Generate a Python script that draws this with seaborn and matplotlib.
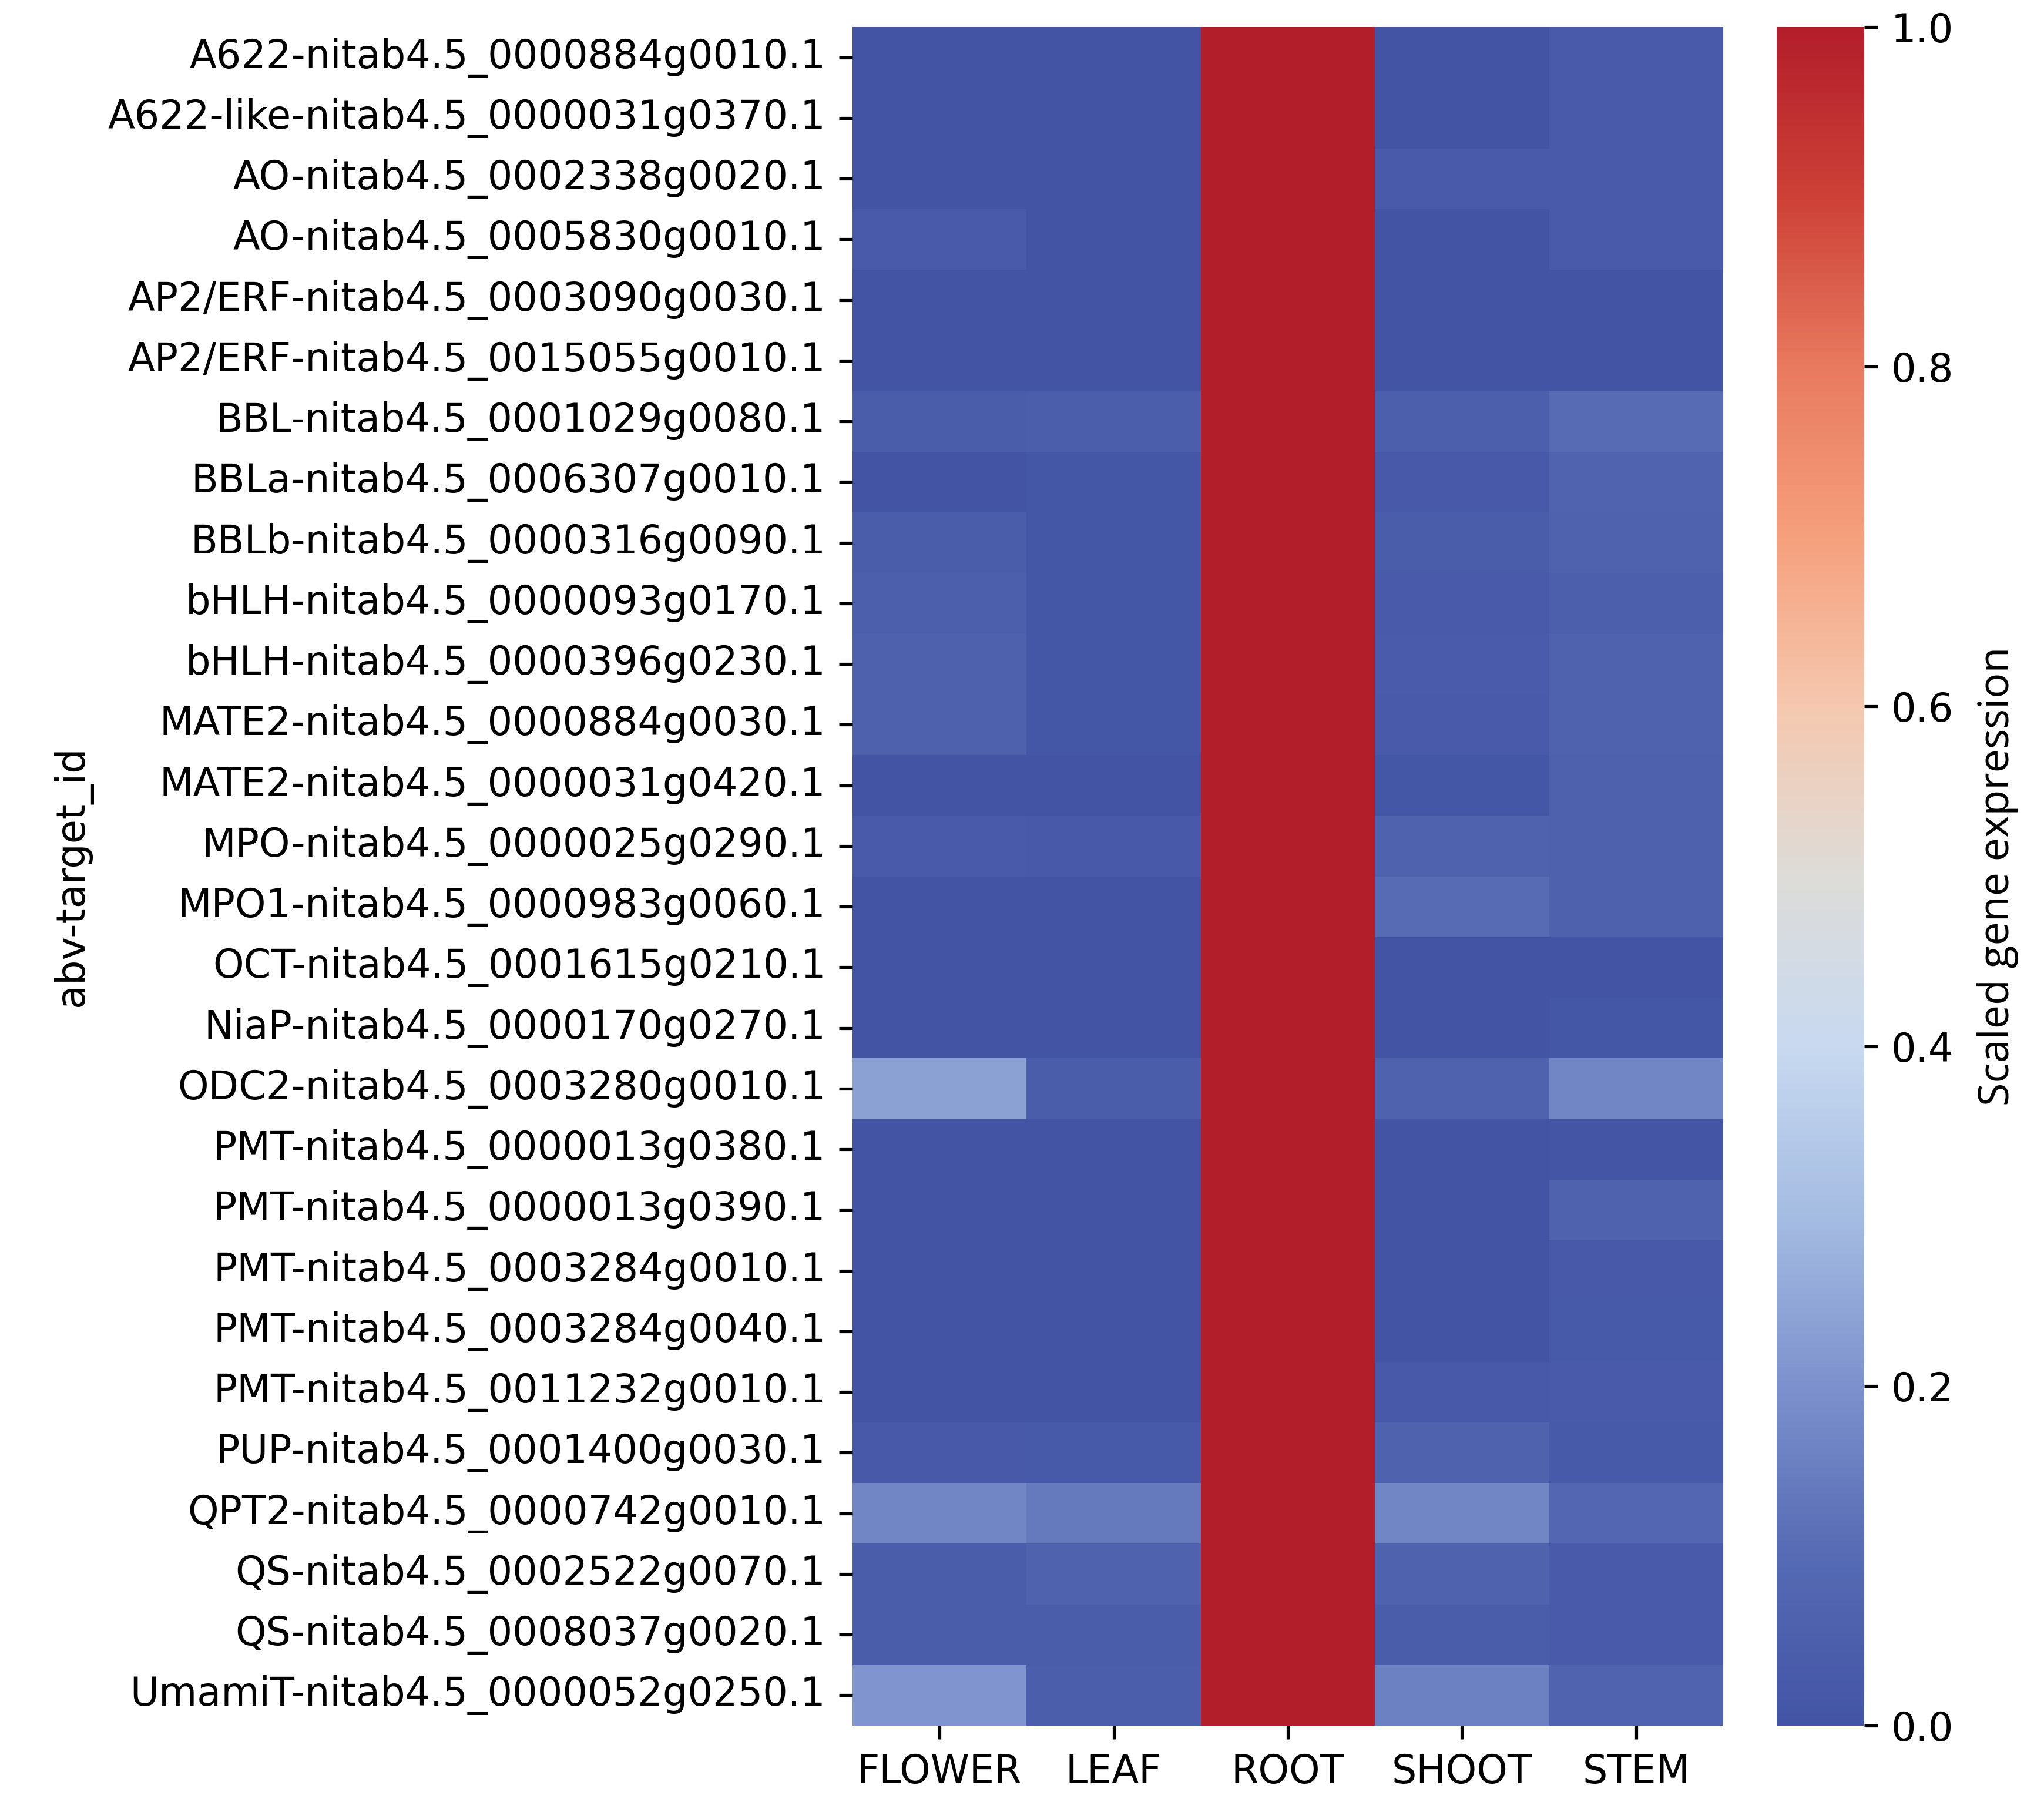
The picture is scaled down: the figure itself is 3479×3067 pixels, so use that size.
import numpy as np
import pandas as pd
import matplotlib
matplotlib.use("Agg")
import matplotlib.pyplot as plt
from matplotlib.colors import LinearSegmentedColormap
import seaborn as sns

genes = [
    "A622-nitab4.5_0000884g0010.1",
    "A622-like-nitab4.5_0000031g0370.1",
    "AO-nitab4.5_0002338g0020.1",
    "AO-nitab4.5_0005830g0010.1",
    "AP2/ERF-nitab4.5_0003090g0030.1",
    "AP2/ERF-nitab4.5_0015055g0010.1",
    "BBL-nitab4.5_0001029g0080.1",
    "BBLa-nitab4.5_0006307g0010.1",
    "BBLb-nitab4.5_0000316g0090.1",
    "bHLH-nitab4.5_0000093g0170.1",
    "bHLH-nitab4.5_0000396g0230.1",
    "MATE2-nitab4.5_0000884g0030.1",
    "MATE2-nitab4.5_0000031g0420.1",
    "MPO-nitab4.5_0000025g0290.1",
    "MPO1-nitab4.5_0000983g0060.1",
    "OCT-nitab4.5_0001615g0210.1",
    "NiaP-nitab4.5_0000170g0270.1",
    "ODC2-nitab4.5_0003280g0010.1",
    "PMT-nitab4.5_0000013g0380.1",
    "PMT-nitab4.5_0000013g0390.1",
    "PMT-nitab4.5_0003284g0010.1",
    "PMT-nitab4.5_0003284g0040.1",
    "PMT-nitab4.5_0011232g0010.1",
    "PUP-nitab4.5_0001400g0030.1",
    "QPT2-nitab4.5_0000742g0010.1",
    "QS-nitab4.5_0002522g0070.1",
    "QS-nitab4.5_0008037g0020.1",
    "UmamiT-nitab4.5_0000052g0250.1",
]

tissues = ["FLOWER", "LEAF", "ROOT", "SHOOT", "STEM"]

flower = [0.00, 0.00, 0.00, 0.03, 0.00, 0.00, 0.04, 0.00, 0.04, 0.05,
          0.055, 0.055, 0.00, 0.03, 0.00, 0.00, 0.00, 0.235, 0.00, 0.00,
          0.00, 0.00, 0.00, 0.02, 0.17, 0.04, 0.04, 0.21]
leaf = [0.00, 0.00, 0.00, 0.00, 0.00, 0.00, 0.045, 0.01, 0.01, 0.01,
        0.01, 0.01, 0.00, 0.02, 0.00, 0.00, 0.00, 0.04, 0.00, 0.00,
        0.00, 0.00, 0.00, 0.025, 0.14, 0.06, 0.04, 0.045]
root = [1.0] * 28
shoot = [0.00, 0.00, 0.03, 0.00, 0.00, 0.00, 0.05, 0.02, 0.04, 0.03,
         0.035, 0.03, 0.01, 0.06, 0.10, 0.00, 0.00, 0.06, 0.00, 0.00,
         0.00, 0.00, 0.02, 0.065, 0.17, 0.06, 0.04, 0.16]
stem = [0.03, 0.03, 0.03, 0.03, 0.00, 0.00, 0.10, 0.07, 0.06, 0.05,
        0.06, 0.06, 0.055, 0.055, 0.055, 0.00, 0.01, 0.17, 0.005, 0.06,
        0.02, 0.025, 0.03, 0.025, 0.08, 0.03, 0.03, 0.07]

df = pd.DataFrame({"FLOWER": flower, "LEAF": leaf, "ROOT": root,
                   "SHOOT": shoot, "STEM": stem}, index=genes)[tissues]
df.index.name = "abv-target_id"

# colormap anchors
cmap_pos = [0.0, 0.1, 0.2, 0.3, 0.4, 0.5, 0.6, 0.7, 0.8, 0.9, 1.0]
cmap_rgb = [(67, 84, 165), (86, 107, 180), (125, 146, 205), (165, 188, 226),
            (200, 217, 240), (221, 220, 216), (245, 200, 175), (245, 160, 125),
            (232, 122, 95), (205, 65, 55), (179, 30, 43)]
cmap = LinearSegmentedColormap.from_list(
    "ref_coolwarm", [(p, tuple(c / 255 for c in rgb)) for p, rgb in zip(cmap_pos, cmap_rgb)])

W, H = 3479, 3067
dpi = 470
fs = 10.25
fig = plt.figure(figsize=(W / dpi, H / dpi), dpi=dpi)
ax = fig.add_axes([1451 / W, 1 - 2937 / H, 1482 / W, 2891 / H])
cax = fig.add_axes([3024 / W, 1 - 2937 / H, 149 / W, 2891 / H])

sns.heatmap(df, ax=ax, cbar_ax=cax, cmap=cmap, vmin=0, vmax=1,
            cbar_kws={"ticks": [0.0, 0.2, 0.4, 0.6, 0.8, 1.0]})

ax.set_xlabel("")
ax.set_ylabel("abv-target_id", fontsize=fs)
ax.tick_params(axis="both", labelsize=fs, length=3.5, width=0.8)
ax.set_yticklabels(genes, rotation=0)
ax.set_xticklabels(tissues, rotation=0)

cax.tick_params(labelsize=fs, length=3.5, width=0.8)
cax.set_yticklabels(["0.0", "0.2", "0.4", "0.6", "0.8", "1.0"])
cax.set_ylabel("Scaled gene expression", fontsize=11, family=["Open Sans", "DejaVu Sans"], labelpad=6)

fig.savefig("out.png", dpi=dpi)
